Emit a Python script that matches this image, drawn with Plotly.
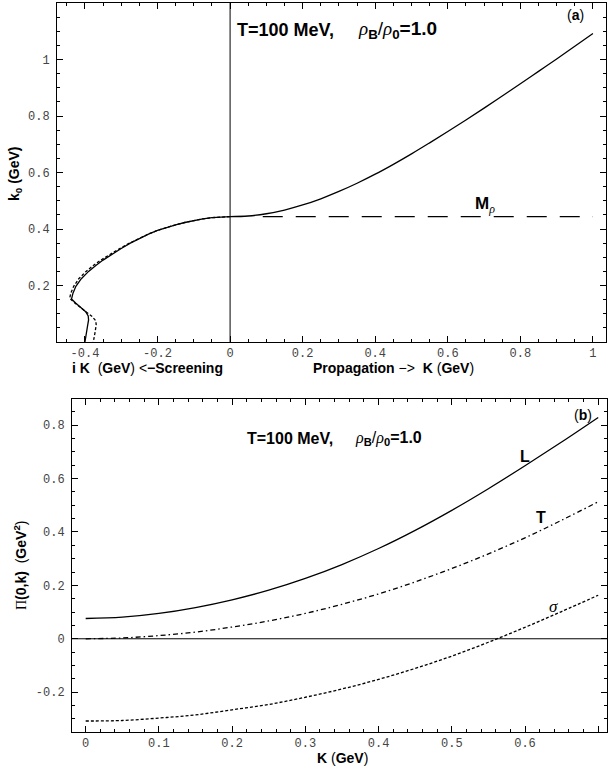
import plotly.graph_objects as go

W, H = 608, 771

# ---------------- Panel (a) data ----------------
K_prop = [0.0, 0.05, 0.1, 0.15, 0.2, 0.25, 0.3, 0.35, 0.4, 0.45, 0.5, 0.55, 0.6, 0.65, 0.7, 0.75,
          0.8, 0.85, 0.9, 0.95, 1.0]
k0_prop = [0.444, 0.446, 0.454, 0.467, 0.485, 0.507, 0.533, 0.562, 0.594, 0.629, 0.666, 0.705, 0.745,
           0.786, 0.828, 0.871, 0.914, 0.958, 1.002, 1.047, 1.092]

K_mrho = [0.09, 1.0]
k0_mrho = [0.444, 0.444]

K_scr_solid = [0.0, -0.025, -0.05, -0.075, -0.1, -0.125, -0.15, -0.175, -0.2, -0.225, -0.25, -0.275, -0.3,
               -0.325, -0.35, -0.37, -0.39, -0.41, -0.425, -0.433, -0.437,
               -0.425, -0.41, -0.398, -0.391, -0.390, -0.393, -0.397, -0.400]
k0_scr_solid = [0.444, 0.443, 0.440, 0.436, 0.430, 0.423, 0.415, 0.406, 0.395, 0.382, 0.367, 0.350, 0.331,
                0.311, 0.290, 0.271, 0.250, 0.224, 0.197, 0.173, 0.152,
                0.137, 0.120, 0.107, 0.092, 0.078, 0.055, 0.030, 0.0]

K_scr_dash = [0.0, -0.025, -0.05, -0.075, -0.1, -0.125, -0.15, -0.175, -0.2, -0.225, -0.25, -0.277, -0.304,
              -0.33, -0.356, -0.377, -0.397, -0.417, -0.431, -0.439, -0.442,
              -0.428, -0.41, -0.395, -0.38, -0.37, -0.369, -0.372, -0.377]
k0_scr_dash = [0.444, 0.443, 0.440, 0.436, 0.430, 0.423, 0.415, 0.406, 0.395, 0.382, 0.367, 0.350, 0.331,
               0.311, 0.290, 0.271, 0.250, 0.224, 0.197, 0.173, 0.155,
               0.138, 0.120, 0.105, 0.090, 0.075, 0.060, 0.035, 0.0]

xa_ticks = [-0.4, -0.2, 0, 0.2, 0.4, 0.6, 0.8, 1.0]
xa_labels = ["-0.4", "-0.2", "0", "0.2", "0.4", "0.6", "0.8", "1"]
ya_ticks = [0.2, 0.4, 0.6, 0.8, 1.0]
ya_labels = ["0.2", "0.4", "0.6", "0.8", "1"]

# ---------------- Panel (b) data ----------------
K_b = [0.0, 0.05, 0.1, 0.15, 0.2, 0.25, 0.3, 0.35, 0.4, 0.45, 0.5, 0.55, 0.6, 0.65, 0.7]
Pi_L = [0.076, 0.081, 0.095, 0.117, 0.146, 0.182, 0.226, 0.278, 0.338, 0.406, 0.481, 0.562, 0.648, 0.737, 0.829]
Pi_T = [0.0, 0.003, 0.012, 0.025, 0.044, 0.067, 0.095, 0.129, 0.168, 0.213, 0.263, 0.318, 0.378, 0.444, 0.513]
Pi_sigma = [-0.308, -0.306, -0.297, -0.285, -0.266, -0.246, -0.219, -0.188, -0.152, -0.111, -0.065, -0.013,
            0.043, 0.102, 0.163]

xb_ticks = [0, 0.1, 0.2, 0.3, 0.4, 0.5, 0.6, 0.7]
xb_labels = ["0", "0.1", "0.2", "0.3", "0.4", "0.5", "0.6", "0.7"]
yb_ticks = [-0.2, 0, 0.2, 0.4, 0.6, 0.8]
yb_labels = ["-0.2", "0", "0.2", "0.4", "0.6", "0.8"]

LW = 1.3
fig = go.Figure()

def line(x, y, dash="solid", xa="x", ya="y", w=LW, shape="spline"):
    fig.add_trace(go.Scatter(x=x, y=y, mode="lines", xaxis=xa, yaxis=ya,
                             line=dict(color="black", width=w, dash=dash, shape=shape),
                             hoverinfo="skip", showlegend=False))

# panel a
line([0, 0], [0, 1.2], w=1, shape="linear")
line(K_prop, k0_prop)
line(K_mrho, k0_mrho, dash="20px,13px", shape="linear")
line(K_scr_solid, k0_scr_solid, shape="linear")
line(K_scr_dash, k0_scr_dash, dash="3px,2px", shape="linear")

# panel b
line([-0.0187, 0.712], [0, 0], xa="x2", ya="y2", w=1, shape="linear")
line(K_b, Pi_L, xa="x2", ya="y2")
line(K_b, Pi_T, dash="5px,3px,1.5px,3px", xa="x2", ya="y2")
line(K_b, Pi_sigma, dash="3px,2px", xa="x2", ya="y2")

tickfont = dict(family="Liberation Mono", size=12, color="#444")

def axis(domain, rng, tickvals, ticktext, minor_dtick, anchor, standoff):
    return dict(domain=domain, range=rng, tickvals=tickvals, ticktext=ticktext,
                showline=True, linecolor="black", linewidth=1, mirror="allticks",
                ticks="inside", ticklen=6, tickwidth=1, tickcolor="black",
                tickfont=tickfont, showgrid=False, zeroline=False, anchor=anchor,
                ticklabelstandoff=standoff,
                minor=dict(ticks="inside", ticklen=3, tickwidth=1, tickcolor="black",
                           dtick=minor_dtick, tick0=0, showgrid=False))

def px(x):
    return x / W

def py(y):
    return 1 - y / H

fig.update_layout(
    width=W, height=H, margin=dict(l=0, r=0, t=0, b=0),
    paper_bgcolor="white", plot_bgcolor="white",
    xaxis=axis([px(57), px(606)], [-0.477, 1.036], xa_ticks, xa_labels, 0.05, "y", 0),
    yaxis=axis([py(342), py(3)], [0, 1.2], ya_ticks, ya_labels, 0.05, "x", 4),
    xaxis2=axis([px(72), px(607)], [-0.0187, 0.712], xb_ticks, xb_labels, 0.02, "y2", 0),
    yaxis2=axis([py(731.7), py(399)], [-0.348, 0.898], yb_ticks, yb_labels, 0.05, "x2", 4),
)

SANS = "Liberation Sans, Arial, sans-serif"
RHO = '<span style="font-family:Liberation Serif"><i>ρ</i></span>'

def ann(text, x, y, size=14, xanchor="center", angle=0):
    fig.add_annotation(text=text, x=px(x), y=py(y), xref="paper", yref="paper",
                       xanchor=xanchor, yanchor="middle", showarrow=False, textangle=angle,
                       font=dict(family=SANS, size=size, color="black"))

# panel a texts
ann("<b>T=100 MeV,</b>", 235, 30, size=18, xanchor="left")
ann(RHO + "<sub><b>B</b></sub>/" + RHO + "<sub><b>0</b></sub><b>=1.0</b>", 356, 30, size=19, xanchor="left")
ann("(<b>a</b>)", 575, 15, size=14)
ann("<b>M</b><sub>" + RHO + "</sub>", 485, 205, size=17)
ann("<b>k<sub>0</sub> (GeV)</b>", 15, 174, size=14, angle=-90)
ann("<b>i K</b>  (<b>GeV</b>) <<b>−Screening</b>", 147, 368, size=14)
ann("<b>Propagation</b> −>  <b>K</b> (<b>GeV</b>)", 393, 368, size=14)

# panel b texts
ann("<b>T=100 MeV,</b>", 245, 438, size=16, xanchor="left")
ann(RHO + "<sub><b>B</b></sub>/" + RHO + "<sub><b>0</b></sub><b>=1.0</b>", 353, 438, size=16, xanchor="left")
ann("(<b>b</b>)", 583, 415, size=14)
ann("<b>L</b>", 525, 456, size=16)
ann("<b>T</b>", 540.5, 517, size=16)
ann('<span style="font-family:Liberation Serif"><i>σ</i></span>', 553.5, 606, size=17)
ann("<b>K</b> (<b>GeV</b>)", 342, 758, size=14)
ann('<span style="font-family:Liberation Serif">Π</span><b>(0,k)</b>  (<b>GeV<sup>2</sup></b>)', 20, 565, size=14, angle=-90)

fig.write_html("out.html", config={"displayModeBar": False},
               post_script="document.body.style.margin='0';")
